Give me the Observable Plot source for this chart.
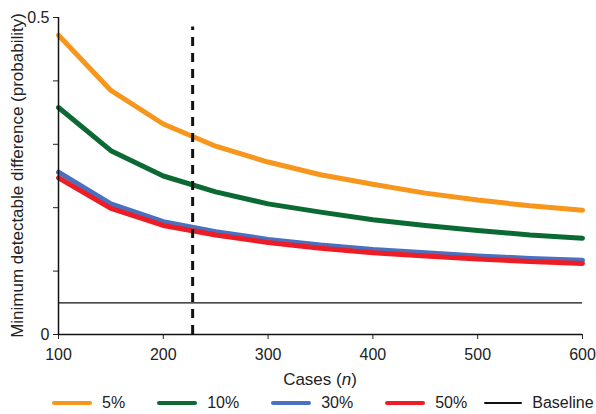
<!DOCTYPE html>
<html>
<head>
<meta charset="utf-8">
<script src="https://cdn.jsdelivr.net/npm/d3@7"></script>
<script src="https://cdn.jsdelivr.net/npm/@observablehq/plot@0.6"></script>
<style>
  html, body { margin: 0; padding: 0; background: #fff; }
  body { width: 596px; height: 414px; overflow: hidden; font-family: "Liberation Sans", Arial, Helvetica, sans-serif; }
  #legend { display: flex; align-items: center; height: 22px; padding-left: 52px; font-size: 16px; color: #222; }
  .item { display: flex; align-items: center; margin-right: 32px; }
  .sw { width: 40px; height: 4px; margin-right: 10px; border-radius: 2px; }
  .sw.thin { height: 1.5px; width: 38px; }
</style>
</head>
<body>
<div id="chart"></div>
<div id="legend"></div>
<script>
const cases = [100, 150, 200, 250, 300, 350, 400, 450, 500, 550, 600];
const p5  = [0.472, 0.385, 0.332, 0.297, 0.272, 0.252, 0.237, 0.223, 0.212, 0.203, 0.196];
const p10 = [0.358, 0.290, 0.250, 0.225, 0.206, 0.193, 0.181, 0.172, 0.164, 0.157, 0.152];
const p30 = [0.256, 0.206, 0.178, 0.162, 0.150, 0.141, 0.134, 0.129, 0.124, 0.120, 0.117];
const p50 = [0.247, 0.199, 0.172, 0.157, 0.145, 0.136, 0.129, 0.124, 0.119, 0.115, 0.112];
const seriesNames = ["5%", "10%", "30%", "50%"];
const seriesColors = ["#f7961d", "#0b6a34", "#4a70c0", "#ee1d25"];
const baselineValue = 0.05;
const cutoffCases = 228;
const cutoffTop = 0.485;
const xTicks = [100, 200, 300, 400, 500, 600];
const yTicks = [0, 0.1, 0.2, 0.3, 0.4, 0.5];
const yTickLabels = ["0", "", "", "", "", "0.5"];
const xLabel = "Cases";
const xLabelVar = "n";
const yLabel = "Minimum detectable difference (probability)";
const baselineName = "Baseline";

const allSeries = [p5, p10, p30, p50];
const rows = [];
allSeries.forEach((vals, i) => vals.forEach((v, j) => rows.push({series: seriesNames[i], n: cases[j], v})));

const chart = Plot.plot({
  width: 596,
  height: 392,
  marginLeft: 58,
  marginRight: 14,
  marginTop: 17,
  marginBottom: 58,
  style: {fontFamily: "'Liberation Sans', Arial, sans-serif", fontSize: "16px", color: "#222"},
  x: {domain: [100, 600]},
  y: {domain: [0, 0.5]},
  color: {domain: seriesNames, range: seriesColors},
  marks: [
    Plot.axisX({ticks: xTicks, tickSize: 5, tickPadding: 9, label: null, fontSize: 16}),
    Plot.axisY({ticks: yTicks, tickSize: 5, tickPadding: 4, label: null, fontSize: 16,
      tickFormat: d => yTickLabels[yTicks.indexOf(d)]}),
    Plot.ruleY([baselineValue], {x1: 100, x2: 600, stroke: "#111", strokeWidth: 1.3}),
    Plot.line(rows, {x: "n", y: "v", z: "series", stroke: "series", strokeWidth: 5, strokeLinejoin: "round"}),
    Plot.ruleX([cutoffCases], {y1: 0, y2: cutoffTop, stroke: "#111", strokeWidth: 3, strokeDasharray: "9,7"}),
    Plot.ruleX([100], {y1: 0, y2: 0.5, stroke: "#111", strokeWidth: 1.5}),
    Plot.ruleY([0], {x1: 100, x2: 600, stroke: "#111", strokeWidth: 1.5})
  ]
});
document.getElementById("chart").appendChild(chart);

// axis titles
const svg = d3.select(chart);
const xs = chart.scale("x"), ys = chart.scale("y");
const xMid = (xs.apply(100) + xs.apply(600)) / 2;
const xt = svg.append("text")
  .attr("x", xMid).attr("y", 385)
  .attr("text-anchor", "middle")
  .style("font-size", "17px").attr("fill", "#222");
xt.append("tspan").text(xLabel + " (");
xt.append("tspan").style("font-style", "italic").text(xLabelVar);
xt.append("tspan").text(")");
const yMid = (ys.apply(0) + ys.apply(0.5)) / 2;
svg.append("text")
  .attr("transform", `translate(23,${yMid}) rotate(-90)`)
  .attr("text-anchor", "middle")
  .style("font-size", "17px").attr("fill", "#222")
  .text(yLabel);

// legend
const legend = d3.select("#legend");
seriesNames.forEach((name, i) => {
  const it = legend.append("div").attr("class", "item");
  it.append("div").attr("class", "sw").style("background", seriesColors[i]);
  it.append("span").text(name);
});
const bl = legend.append("div").attr("class", "item").style("margin-left", "-15px");
bl.append("div").attr("class", "sw thin").style("background", "#111");
bl.append("span").text(baselineName);
</script>
</body>
</html>
